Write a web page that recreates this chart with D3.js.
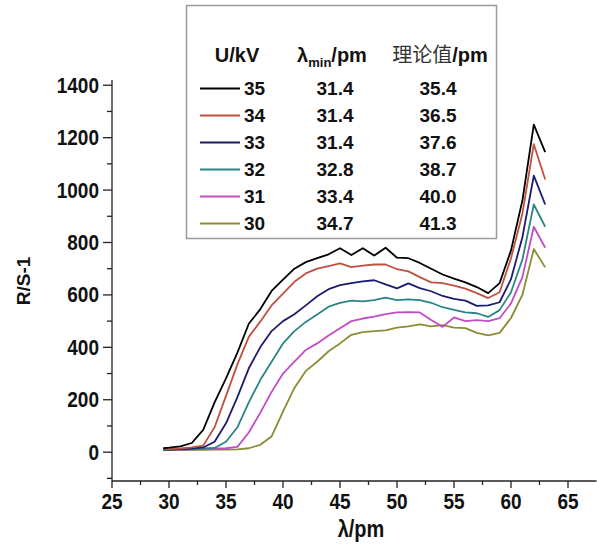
<!DOCTYPE html>
<html>
<head>
<meta charset="utf-8">
<script src="https://cdn.jsdelivr.net/npm/d3@7"></script>
<style>
  body { margin: 0; background: #fff; }
  text { font-family: "Liberation Sans", Arial, sans-serif; font-weight: bold; fill: #111; }
</style>
</head>
<body>
<div id="chart"></div>
<script>
// wavelength grid (pm)
const lambda = [29.5, 30, 31, 32, 33, 34, 35, 36, 37, 38, 39, 40, 41, 42, 43, 44, 45, 46, 47, 48,
                49, 50, 51, 52, 53, 54, 55, 56, 57, 58, 59, 60, 61, 62, 63];

const voltages = ["35", "34", "33", "32", "31", "30"];
const lambdaMin = ["31.4", "31.4", "31.4", "32.8", "33.4", "34.7"];
const theory = ["35.4", "36.5", "37.6", "38.7", "40.0", "41.3"];
const colors = ["#000000", "#c0503f", "#1c1c6e", "#2b8585", "#c24cc4", "#8c8c34"];

const kv35 = [15, 17, 22, 35, 85, 190, 282, 380, 490, 545, 615, 658, 700, 725, 740, 755, 778, 752, 778, 750,
              780, 742, 740, 722, 700, 678, 662, 648, 630, 607, 645, 770, 960, 1250, 1145];
const kv34 = [12, 12, 14, 18, 25, 95, 215, 335, 440, 498, 560, 605, 650, 682, 700, 710, 720, 706, 712, 716,
              716, 698, 690, 668, 648, 645, 635, 624, 607, 588, 610, 740, 910, 1175, 1040];
const kv33 = [10, 10, 12, 14, 18, 40, 110, 210, 320, 400, 462, 500, 526, 560, 595, 622, 637, 645, 652, 656,
              640, 625, 644, 626, 614, 596, 585, 578, 558, 560, 572, 660, 820, 1055, 945];
const kv32 = [10, 10, 11, 12, 14, 16, 40, 95, 190, 275, 345, 415, 462, 497, 525, 555, 570, 578, 575, 580,
              590, 580, 583, 580, 570, 553, 543, 533, 530, 516, 542, 610, 735, 945, 860];
const kv31 = [10, 10, 10, 11, 12, 13, 15, 20, 75, 150, 230, 300, 345, 390, 415, 445, 473, 500, 510, 517,
              527, 533, 534, 533, 504, 478, 514, 500, 504, 500, 511, 568, 668, 860, 780];
const kv30 = [8, 8, 8, 9, 9, 10, 10, 11, 15, 28, 60, 155, 245, 310, 345, 385, 415, 448, 458, 462,
              465, 475, 480, 488, 480, 485, 475, 473, 455, 446, 455, 512, 600, 775, 705];

const series = [kv35, kv34, kv33, kv32, kv31, kv30];

const xTicks = [25, 30, 35, 40, 45, 50, 55, 60, 65];
const yTicks = [0, 200, 400, 600, 800, 1000, 1200, 1400];

const W = 597, H = 548;
const stretch = 1.15; // text in the figure is slightly taller than wide

const svg = d3.select("#chart").append("svg")
    .attr("width", W)
    .attr("height", H);

const x = d3.scaleLinear().domain([25, 67.5]).range([112, 596.5]);
const y = d3.scaleLinear().domain([-110, 1420]).range([481, 80]);

// helper: stretched text
function sText(g, tx, ty, str, size, anchor) {
    return g.append("text")
        .attr("transform", `translate(${tx},${ty}) scale(1,${stretch})`)
        .attr("text-anchor", anchor || "middle")
        .style("font-size", size + "px")
        .text(str);
}

// axes
const axG = svg.append("g").attr("stroke", "#222").attr("stroke-width", 1.3);
axG.append("line").attr("x1", x(25)).attr("x2", x(67.5)).attr("y1", y(-110)).attr("y2", y(-110));
axG.append("line").attr("x1", x(25)).attr("x2", x(25)).attr("y1", y(-110)).attr("y2", y(1420));

// x ticks major/minor
d3.range(25, 67.5, 2.5).forEach(v => {
    const major = v % 5 === 0;
    axG.append("line")
        .attr("x1", x(v)).attr("x2", x(v))
        .attr("y1", y(-110)).attr("y2", y(-110) + (major ? 7 : 4));
});
// y ticks major/minor
d3.range(-100, 1401, 100).forEach(v => {
    const major = v % 200 === 0;
    axG.append("line")
        .attr("x1", x(25)).attr("x2", x(25) - (major ? 9 : 5))
        .attr("y1", y(v)).attr("y2", y(v));
});

const lab = svg.append("g");
xTicks.forEach(v => sText(lab, x(v), 509, v, 19, "middle"));
yTicks.forEach(v => sText(lab, 99, y(v) + 7.5, v, 19, "end"));

// axis titles
sText(lab, 361, 537, "λ/pm", 20, "middle");
svg.append("text")
    .attr("transform", "translate(30,281) rotate(-90)")
    .attr("text-anchor", "middle")
    .style("font-size", "19px")
    .text("R/S-1");

// data lines
const line = d3.line()
    .x((d, i) => x(lambda[i]))
    .y(d => y(d));

const plot = svg.append("g");
series.slice().reverse().forEach((s, k) => {
    const idx = series.length - 1 - k;
    plot.append("path")
        .datum(s)
        .attr("fill", "none")
        .attr("stroke", colors[idx])
        .attr("stroke-width", 1.8)
        .attr("stroke-linejoin", "round")
        .attr("d", line);
});

// legend table
const leg = svg.append("g");
leg.append("rect")
    .attr("x", 186.5).attr("y", 5.5)
    .attr("width", 310).attr("height", 233)
    .attr("fill", "#fff")
    .attr("stroke", "#9a9a9a")
    .attr("stroke-width", 1.5);

leg.append("text").attr("x", 237).attr("y", 62).attr("text-anchor", "middle")
    .style("font-size", "20px").text("U/kV");

const h2 = leg.append("text").attr("x", 332).attr("y", 62).attr("text-anchor", "middle")
    .style("font-size", "20px");
h2.append("tspan").text("λ");
h2.append("tspan").attr("dy", 5).style("font-size", "13px").text("min");
h2.append("tspan").attr("dy", -5).text("/pm");

const h3 = leg.append("text").attr("x", 440).attr("y", 62).attr("text-anchor", "middle")
    .style("font-size", "20px");
h3.append("tspan").style("font-family", "'Noto Sans CJK SC', sans-serif")
    .style("font-weight", "normal").style("fill", "#333").text("理论值");
h3.append("tspan").text("/pm");

voltages.forEach((v, i) => {
    const ty = 95 + i * 27;
    leg.append("line")
        .attr("x1", 200).attr("x2", 240)
        .attr("y1", ty - 6.5).attr("y2", ty - 6.5)
        .attr("stroke", colors[i]).attr("stroke-width", 2);
    leg.append("text").attr("x", 244).attr("y", ty).style("font-size", "19px").text(v);
    leg.append("text").attr("x", 335).attr("y", ty).attr("text-anchor", "middle")
        .style("font-size", "19px").text(lambdaMin[i]);
    leg.append("text").attr("x", 438).attr("y", ty).attr("text-anchor", "middle")
        .style("font-size", "19px").text(theory[i]);
});
</script>
</body>
</html>
